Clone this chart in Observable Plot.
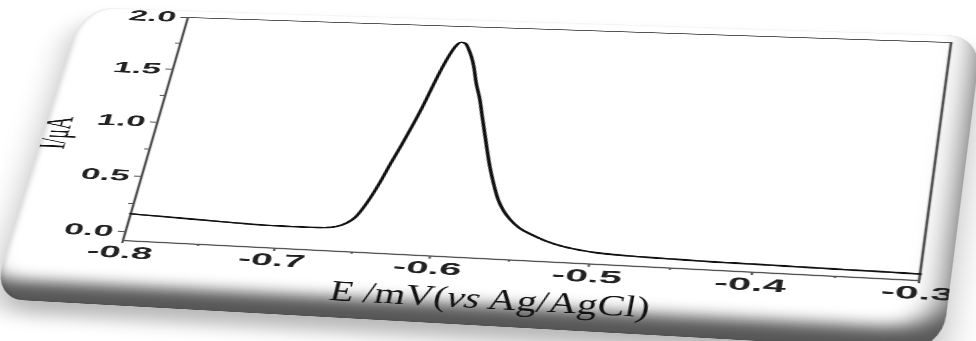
<!DOCTYPE html>
<html><head><meta charset="utf-8">
<script src="https://cdn.jsdelivr.net/npm/d3@7"></script>
<script src="https://cdn.jsdelivr.net/npm/@observablehq/plot@0.6"></script>
<style>
html,body{margin:0;padding:0;background:#fff;overflow:hidden;}
#stage{position:relative;width:976px;height:341px;overflow:hidden;background:#fff;}
#sheet{position:absolute;left:0;top:0;width:418px;height:341px;transform-origin:0 0;}
#card{position:absolute;left:17px;top:13px;width:401px;height:300px;border-radius:14px / 32px;background:#fff;overflow:hidden;
 box-shadow: inset 1px 0 2px rgba(0,0,0,0.12),
             inset -7px -25px 14px -6px rgba(0,0,0,0.66),
             inset -2px -4px 3px -1px rgba(255,255,255,0.7),
             0 13px 16px rgba(0,0,0,0.28);}
#chart{position:absolute;left:-17px;top:-13px;}
</style></head><body>
<div id="stage"><div id="sheet"><div id="card"><div id="chart"></div></div></div></div>
<script>
// Data
const potential = [-0.800,-0.780,-0.760,-0.740,-0.720,-0.700,-0.685,-0.672,-0.664,-0.658,-0.653,-0.648,-0.643,-0.639,-0.635,-0.631,-0.627,-0.624,-0.621,-0.618,-0.615,-0.612,-0.609,-0.606,-0.603,-0.600,-0.596,-0.591,-0.587,-0.583,-0.579,-0.575,-0.570,-0.565,-0.560,-0.555,-0.548,-0.539,-0.529,-0.519,-0.508,-0.498,-0.485,-0.470,-0.450,-0.430,-0.400,-0.370,-0.340,-0.320,-0.300];
const current   = [0.160,0.150,0.140,0.130,0.120,0.116,0.117,0.120,0.135,0.170,0.230,0.360,0.540,0.717,0.880,1.057,1.250,1.420,1.580,1.713,1.810,1.850,1.842,1.790,1.720,1.630,1.480,1.323,1.170,1.020,0.870,0.726,0.570,0.435,0.340,0.271,0.200,0.145,0.095,0.060,0.035,0.020,0.010,0.003,-0.003,-0.008,-0.012,-0.016,-0.020,-0.022,-0.025];
const xTicks = [-0.8,-0.7,-0.6,-0.5,-0.4,-0.3];
const xMinor = [-0.75,-0.65,-0.55,-0.45,-0.35];
const yTicks = [0.0,0.5,1.0,1.5,2.0];
const yMinor = [0.25,0.75,1.25,1.75];
const xDomain = [-0.8,-0.3];
const yDomain = [-0.08,2.0];
const xTitle = ["E /mV(", "vs", " Ag/AgCl)"];
const yTitle = "I/\u03bcA";

const data = potential.map((p,i)=>({p, c: current[i]}));

const W=418, H=341, mL=67, mR=13, mT=20, mB=91;
const fmt = d => d.toFixed(1);
const plot = Plot.plot({
  width: W, height: H,
  marginLeft: mL, marginRight: mR, marginTop: mT, marginBottom: mB,
  style: {background: "transparent", fontFamily: "'Liberation Sans', Arial, sans-serif", color: "#222", overflow: "visible"},
  x: {domain: xDomain},
  y: {domain: yDomain},
  marks: [
    Plot.ruleY([yDomain[1]], {stroke: "#555", strokeWidth: 1}),
    Plot.ruleY([yDomain[0]], {stroke: "#555", strokeWidth: 1.3}),
    Plot.ruleX([xDomain[0]], {stroke: "#555", strokeWidth: 1.2}),
    Plot.ruleX([xDomain[1]], {stroke: "#555", strokeWidth: 1.2}),
    Plot.axisY(yTicks, {anchor: "left", tickSize: 3, tickPadding: 2.5, tickFormat: fmt, fontSize: 16, fontWeight: "bold", label: null, stroke: "#555", fill: "#222"}),
    Plot.axisY(yMinor, {anchor: "left", tickSize: 2, tickFormat: () => "", label: null, stroke: "#555"}),
    Plot.axisX(xTicks, {anchor: "bottom", tickSize: 3, tickPadding: 2, tickFormat: fmt, fontSize: 17, fontWeight: "bold", label: null, stroke: "#555", fill: "#222"}),
    Plot.axisX(xMinor, {anchor: "bottom", tickSize: 2, tickFormat: () => "", label: null, stroke: "#555"}),
    Plot.line(data, {x: "p", y: "c", stroke: "#111", strokeWidth: 1.6, curve: "monotone-x"})
  ]
});
document.getElementById("chart").appendChild(plot);

// axis titles as real text
const svg = d3.select(plot);
const xs = plot.scale("x"), ys = plot.scale("y");
const xt = svg.append("text")
  .attr("x", xs.apply(-0.557)).attr("y", H - mB + 47)
  .attr("text-anchor", "middle")
  .attr("textLength", 135).attr("lengthAdjust", "spacingAndGlyphs")
  .attr("font-family", "'Liberation Serif', 'Times New Roman', serif")
  .attr("font-size", 27).attr("fill", "#111");
xt.append("tspan").text(xTitle[0]);
xt.append("tspan").attr("font-style", "italic").text(xTitle[1]);
xt.append("tspan").text(xTitle[2]);
svg.append("text")
  .attr("transform", `translate(${mL - 45},${ys.apply(0.86)}) rotate(-90)`)
  .attr("text-anchor", "middle").attr("dy", "0.35em")
  .attr("font-family", "'Liberation Serif', 'Times New Roman', serif")
  .attr("font-size", 18).attr("fill", "#111")
  .text(yTitle);

// perspective of the photographed sheet: map plot frame onto the quad seen in the picture
function homography(src, dst) {
  const A = [], B = [];
  for (let i = 0; i < 4; i++) {
    const [x, y] = src[i], [u, v] = dst[i];
    A.push([x, y, 1, 0, 0, 0, -u * x, -u * y]); B.push(u);
    A.push([0, 0, 0, x, y, 1, -v * x, -v * y]); B.push(v);
  }
  const n = 8;
  for (let i = 0; i < n; i++) {
    let p = i;
    for (let r = i + 1; r < n; r++) if (Math.abs(A[r][i]) > Math.abs(A[p][i])) p = r;
    [A[i], A[p]] = [A[p], A[i]]; [B[i], B[p]] = [B[p], B[i]];
    for (let r = i + 1; r < n; r++) {
      const f = A[r][i] / A[i][i];
      for (let c = i; c < n; c++) A[r][c] -= f * A[i][c];
      B[r] -= f * B[i];
    }
  }
  const X = new Array(n);
  for (let i = n - 1; i >= 0; i--) {
    let s = B[i];
    for (let c = i + 1; c < n; c++) s -= A[i][c] * X[c];
    X[i] = s / A[i][i];
  }
  return X;
}
const src = [[mL, mT], [W - mR, mT], [W - mR, H - mB], [mL, H - mB]];
const dst = [[187, 17], [950, 42], [918, 280], [122, 240]];
const [a, b, c, d, e, f, g, h] = homography(src, dst);
document.getElementById("sheet").style.transform =
  `matrix3d(${a},${d},0,${g},${b},${e},0,${h},0,0,1,0,${c},${f},0,1)`;
</script>
</body></html>
